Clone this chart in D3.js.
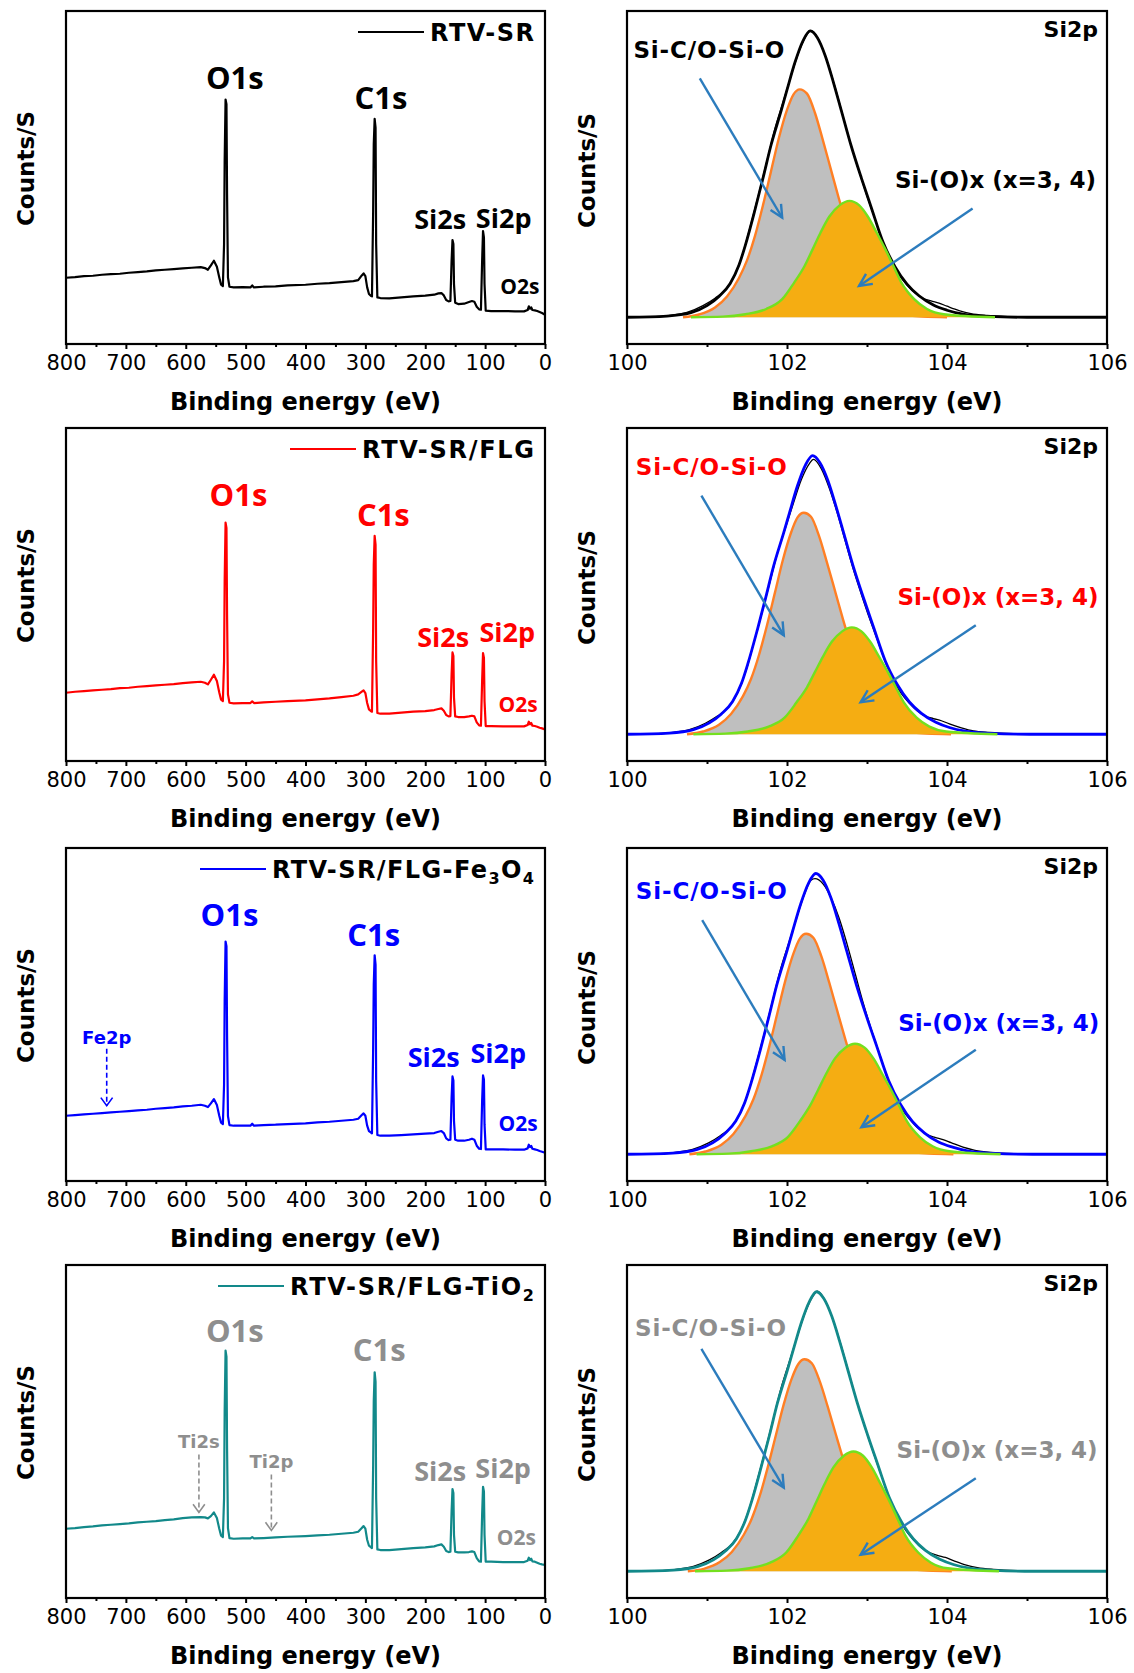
<!DOCTYPE html>
<html>
<head>
<meta charset="utf-8">
<script src="https://cdn.jsdelivr.net/npm/d3@7"></script>
<style>
  body { margin: 0; background: #fff; }
  svg { display: block; font-family: "DejaVu Sans", sans-serif; }
</style>
</head>
<body>
<div id="chart"></div>
<script>
// ---- survey spectra [binding energy eV, counts (a.u.)] ----
var surveyRTV = [[800,19.9],[785,20.1],[770,20.4],[755,20.5],[740,20.8],[725,21.0],[710,21.1],[695,21.4],[680,21.6],[665,21.8],[650,22.1],[635,22.3],[620,22.5],[605,22.7],[590,22.9],[575,23.1],[568,22.8],[563,22.3],[558,23.6],[553,25.0],[548,23.2],[544,20.0],[541,17.8],[538,17.4],[536,30],[535,55],[533.5,73.4],[532,72],[531,45],[529.5,20],[527,17.2],[520,17.0],[505,17.1],[492,17.0],[489,17.6],[486,17.0],[470,17.2],[450,17.3],[430,17.6],[400,17.8],[380,18.1],[360,18.3],[340,18.6],[320,18.9],[312,19.2],[306,20.6],[303,21.2],[300,20.4],[297,17.0],[294,15.0],[291,14.5],[289,14.3],[287,40],[286,60],[284.5,67.6],[283,65],[282,30],[280,14],[275,13.8],[260,13.7],[240,14.0],[220,14.3],[200,14.5],[185,14.8],[178,15.2],[173,15.3],[169,14.6],[165,13.2],[161,12.8],[158,12.9],[156,25],[154.5,31.2],[153,30],[152,18],[150,12.4],[145,12.0],[135,12.1],[127,12.6],[122,12.9],[118,12.7],[114,11.2],[110,10.4],[107,10.3],[105,25],[103.5,33.9],[102,32],[101,18],[99,10],[90,9.9],[70,9.9],[50,9.8],[35,9.8],[29,10.2],[27,11.3],[25,10.6],[23,11.0],[21,10.2],[17,10.1],[13,9.9],[9,9.6],[5,9.3],[0,8.8]];
var surveyFLG = [[800,20.5],[785,20.8],[770,21.0],[755,21.2],[740,21.4],[725,21.6],[710,21.9],[695,22.0],[680,22.3],[665,22.5],[650,22.7],[635,22.9],[620,23.1],[605,23.4],[590,23.6],[575,23.8],[568,23.5],[563,23.0],[558,24.4],[553,25.9],[548,24.0],[544,20.6],[541,18.4],[538,18.0],[536,30],[535,54],[533.5,71.6],[532,70],[531,44],[529.5,20],[527,17.5],[520,17.3],[505,17.4],[492,17.4],[489,17.9],[486,17.4],[470,17.6],[450,17.8],[430,18.0],[400,18.2],[380,18.5],[360,18.8],[340,19.2],[320,19.6],[312,20.0],[306,20.8],[303,21.2],[300,20.4],[297,17.4],[294,15.5],[291,15.0],[289,14.8],[287,40],[286,59],[284.5,67.6],[283,65],[282,30],[280,14.4],[275,14.2],[260,14.2],[240,14.5],[220,14.8],[200,15.0],[185,15.3],[178,15.6],[173,15.8],[169,15.1],[165,13.8],[161,13.4],[158,13.5],[156,26],[154.5,32.6],[153,31.5],[152,19],[150,13.4],[145,13.2],[135,13.2],[127,13.4],[122,13.6],[118,13.4],[114,11.6],[110,10.7],[107,10.6],[105,24],[103.5,32.4],[102,31],[101,18],[99,10.5],[90,10.5],[70,10.4],[50,10.4],[35,10.4],[29,10.8],[27,11.8],[25,11.0],[23,11.4],[21,10.6],[17,10.5],[13,10.3],[9,10.0],[5,9.8],[0,9.5]];
var surveyFe = [[800,19.6],[785,19.8],[770,20.0],[755,20.2],[740,20.4],[725,20.6],[710,20.8],[695,21.0],[680,21.2],[665,21.4],[650,21.7],[635,21.9],[620,22.1],[605,22.4],[590,22.6],[575,22.9],[568,22.6],[563,22.2],[558,23.3],[553,24.6],[548,22.8],[544,19.6],[541,17.5],[538,17.1],[536,29],[535,54],[533.5,71.9],[532,70.5],[531,44],[529.5,19.5],[527,16.8],[520,16.6],[505,16.6],[492,16.6],[489,17.2],[486,16.6],[470,16.8],[450,16.9],[430,17.1],[400,17.3],[380,17.6],[360,17.8],[340,18.1],[320,18.4],[312,18.7],[306,19.8],[303,20.3],[300,19.6],[297,16.6],[294,15.0],[291,14.6],[289,14.3],[287,40],[286,59],[284.5,67.8],[283,65],[282,30],[280,13.8],[275,13.6],[260,13.6],[240,13.8],[220,14.0],[200,14.2],[185,14.4],[178,14.8],[173,15.0],[169,14.4],[165,12.8],[161,12.3],[158,12.4],[156,25],[154.5,31.4],[153,30.2],[152,18],[150,12.4],[145,12.1],[135,12.1],[127,12.4],[122,12.7],[118,12.4],[114,10.6],[110,9.7],[107,9.6],[105,24],[103.5,31.7],[102,30.5],[101,17],[99,9.5],[90,9.5],[70,9.5],[50,9.4],[35,9.4],[29,9.8],[27,10.9],[25,10.2],[23,10.5],[21,9.7],[17,9.5],[13,9.3],[9,9.0],[5,8.8],[0,8.5]];
var surveyTi = [[800,20.8],[785,21.0],[770,21.3],[755,21.5],[740,21.8],[725,22.0],[710,22.2],[695,22.4],[680,22.7],[665,22.9],[650,23.1],[635,23.4],[620,23.6],[605,24.0],[590,24.2],[575,24.3],[568,24.2],[563,23.9],[558,24.6],[553,25.7],[548,24.0],[544,20.8],[541,18.7],[538,18.3],[536,30],[535,56],[533.5,74.3],[532,72.5],[531,45],[529.5,21],[527,18.0],[520,17.8],[505,17.9],[492,17.9],[489,18.3],[486,17.9],[470,18.0],[450,18.2],[430,18.4],[400,18.6],[380,18.8],[360,19.0],[340,19.3],[320,19.6],[312,19.9],[306,21.0],[303,21.6],[300,20.8],[297,17.5],[294,15.7],[291,15.3],[289,15.0],[287,40],[286,59],[284.5,67.8],[283,65],[282,30],[280,14.6],[275,14.4],[260,14.4],[240,14.7],[220,15.0],[200,15.2],[185,15.5],[178,15.9],[173,16.1],[169,15.4],[165,14.1],[161,13.8],[158,13.9],[156,26],[154.5,32.7],[153,31.5],[152,19],[150,13.9],[145,13.7],[135,13.7],[127,13.8],[122,14.0],[118,13.8],[114,12.0],[110,11.0],[107,10.9],[105,25],[103.5,33.4],[102,32],[101,19],[99,10.9],[90,10.9],[70,10.8],[50,10.8],[35,10.8],[29,11.2],[27,12.1],[25,11.4],[23,11.8],[21,11.0],[17,10.9],[13,10.6],[9,10.3],[5,10.1],[0,9.9]];

// ---- Si2p high-resolution: raw data, fitted envelope, Si-C/O-Si-O and Si-(O)x components ----
var rawRTV = [[100.25,0],[100.5,0.5],[100.75,1.6],[100.95,3.8],[101.1,6.2],[101.25,9.6],[101.35,14],[101.45,21],[101.55,30.5],[101.65,40.5],[101.75,51],[101.85,61.5],[101.95,70],[102.05,78.5],[102.15,86.5],[102.25,92],[102.3,93.4],[102.4,90.2],[102.5,83.5],[102.6,75],[102.7,65.5],[102.8,56],[102.9,47.5],[103.0,39.5],[103.1,32],[103.2,24.5],[103.3,18.5],[103.4,13.8],[103.5,10.5],[103.6,7.9],[103.7,6.2],[103.8,5.3],[103.9,4.6],[104.0,3.6],[104.15,2.2],[104.3,1.2],[104.5,0.6],[104.8,0.2],[105.2,0]];
var rawFLG = [[100.28,0],[100.53,0.5],[100.78,1.5],[100.98,3.6],[101.13,5.9],[101.28,9.2],[101.38,13.4],[101.48,20.1],[101.58,29.2],[101.68,38.8],[101.78,48.9],[101.88,58.9],[101.98,67.1],[102.08,75.2],[102.18,82.9],[102.28,88.1],[102.33,89.5],[102.43,86.4],[102.53,80],[102.63,71.9],[102.73,62.7],[102.83,53.6],[102.93,45.5],[103.03,37.8],[103.13,30.7],[103.23,23.5],[103.33,17.7],[103.43,13.2],[103.53,10.1],[103.63,7.6],[103.73,5.9],[103.83,5.1],[103.93,4.4],[104.03,3.4],[104.18,2.1],[104.33,1.1],[104.53,0.6],[104.83,0.2],[105.3,0]];
var rawFe = [[100.3,0],[100.57,0.5],[100.82,1.6],[101.02,3.7],[101.17,6.1],[101.32,9.4],[101.42,13.7],[101.52,20.6],[101.62,29.9],[101.72,39.7],[101.82,50],[101.92,60.3],[102.02,68.6],[102.12,76.9],[102.22,84.8],[102.3,89.2],[102.35,89.7],[102.45,88],[102.55,83.5],[102.65,77],[102.75,68.5],[102.85,59],[102.95,49.5],[103.05,41],[103.15,33.2],[103.25,25.5],[103.35,19],[103.45,14.2],[103.55,10.9],[103.65,8.2],[103.75,6.4],[103.85,5.5],[103.95,4.8],[104.05,3.8],[104.2,2.3],[104.35,1.3],[104.55,0.6],[104.85,0.2],[105.4,0]];
var rawTi = [[100.33,0],[100.58,0.5],[100.83,1.6],[101.03,3.7],[101.18,6.1],[101.33,9.4],[101.43,13.7],[101.53,20.5],[101.63,29.8],[101.73,39.5],[101.83,49.8],[101.93,60],[102.03,68.3],[102.13,76.6],[102.23,84.4],[102.33,89.8],[102.38,91.2],[102.48,88],[102.58,81.5],[102.68,73.2],[102.78,63.9],[102.88,54.7],[102.98,46.4],[103.08,38.6],[103.18,31.2],[103.28,23.9],[103.38,18],[103.48,13.5],[103.58,10.3],[103.68,7.7],[103.78,6.1],[103.88,5.2],[103.98,4.5],[104.08,3.5],[104.23,2.1],[104.38,1.2],[104.58,0.6],[104.88,0.2],[105.4,0]];

var envRTV = [[100,0],[100.5,0.4],[100.8,1.5],[101.0,3.8],[101.15,6.8],[101.29,11],[101.4,17],[101.48,23.5],[101.6,35],[101.7,45.3],[101.8,56],[101.93,67.5],[102.0,74],[102.1,83],[102.2,90],[102.29,93.2],[102.38,91],[102.48,85],[102.58,76.5],[102.68,67.2],[102.8,56],[102.93,45.3],[103.05,36],[103.2,24.5],[103.35,16.5],[103.5,10.8],[103.65,7],[103.83,4],[104.0,2.3],[104.2,1.0],[104.5,0.3],[105,0],[106,0]];
var envFLG = [[100,0],[100.53,0.4],[100.83,1.5],[101.03,3.7],[101.18,6.6],[101.32,10.7],[101.43,16.5],[101.51,22.9],[101.63,34.1],[101.73,44.1],[101.83,54.5],[101.96,65.7],[102.03,72],[102.13,80.8],[102.23,87.6],[102.32,90.7],[102.41,88.5],[102.51,82.7],[102.61,74.4],[102.71,65.4],[102.83,54.5],[102.96,44.1],[103.08,35],[103.23,23.8],[103.38,16.1],[103.53,10.5],[103.68,6.8],[103.86,3.9],[104.03,2.2],[104.23,1.0],[104.53,0.3],[105.03,0],[106,0]];
var envFe = [[100,0],[100.57,0.4],[100.87,1.5],[101.07,3.7],[101.22,6.7],[101.36,10.8],[101.47,16.7],[101.55,23.1],[101.67,34.3],[101.77,44.4],[101.87,54.9],[102.0,66.2],[102.07,72.6],[102.17,81.4],[102.27,88.3],[102.36,91.4],[102.45,89.3],[102.55,83.4],[102.65,75],[102.75,65.9],[102.87,54.9],[103.0,44.4],[103.12,35.3],[103.27,24],[103.42,16.2],[103.57,10.6],[103.72,6.9],[103.9,3.9],[104.07,2.3],[104.27,1.0],[104.57,0.3],[105.07,0],[106,0]];
var envTi = [[100,0],[100.58,0.4],[100.88,1.5],[101.08,3.7],[101.23,6.6],[101.37,10.7],[101.48,16.6],[101.56,22.9],[101.68,34.2],[101.78,44.2],[101.88,54.7],[102.01,65.9],[102.08,72.2],[102.18,81],[102.28,87.8],[102.37,91],[102.46,88.8],[102.56,83],[102.66,74.7],[102.76,65.6],[102.88,54.7],[103.01,44.2],[103.13,35.1],[103.28,23.9],[103.43,16.1],[103.58,10.5],[103.73,6.8],[103.91,3.9],[104.08,2.2],[104.28,1.0],[104.58,0.3],[105.08,0],[106,0]];

var siC_RTV = [[100.7,0],[100.9,0.9],[101.1,3.2],[101.25,6.8],[101.4,12.8],[101.5,18.5],[101.6,26.5],[101.7,36.5],[101.8,47.5],[101.9,58.5],[102.0,67.5],[102.08,72.5],[102.16,74.2],[102.25,72.8],[102.35,66.5],[102.45,57.5],[102.55,48],[102.65,38.5],[102.75,29.5],[102.85,21],[102.95,14],[103.05,8.8],[103.2,4],[103.4,1.2],[103.7,0.2],[104.0,0]];
var siC_FLG = [[100.75,0],[100.95,0.9],[101.15,3.1],[101.3,6.6],[101.45,12.4],[101.55,18],[101.65,25.8],[101.75,35.5],[101.85,46.2],[101.95,56.9],[102.05,65.6],[102.13,70.5],[102.21,72.1],[102.3,70.8],[102.4,64.6],[102.5,55.9],[102.6,46.7],[102.7,37.4],[102.8,28.7],[102.9,20.4],[103.0,13.6],[103.1,8.6],[103.25,3.9],[103.45,1.2],[103.75,0.2],[104.05,0]];
var siC_Fe = [[100.78,0],[100.98,0.9],[101.18,3.1],[101.33,6.6],[101.48,12.4],[101.58,17.9],[101.68,25.7],[101.78,35.3],[101.88,46],[101.98,56.6],[102.08,65.3],[102.16,70.2],[102.24,71.8],[102.33,70.5],[102.43,64.4],[102.53,55.7],[102.63,46.5],[102.73,37.3],[102.83,28.6],[102.93,20.3],[103.03,13.6],[103.13,8.5],[103.28,3.9],[103.48,1.2],[103.78,0.2],[104.08,0]];
var siC_Ti = [[100.76,0],[100.96,0.8],[101.16,3],[101.31,6.3],[101.46,11.9],[101.56,17.2],[101.66,24.6],[101.76,33.9],[101.86,44.2],[101.96,54.4],[102.06,62.8],[102.14,67.4],[102.22,69],[102.31,67.7],[102.41,61.8],[102.51,53.5],[102.61,44.6],[102.71,35.8],[102.81,27.4],[102.91,19.5],[103.01,13],[103.11,8.2],[103.26,3.7],[103.46,1.1],[103.76,0.2],[104.06,0]];

var siOx_RTV = [[100.8,0],[101.2,0.2],[101.48,1.0],[101.74,2.7],[101.94,5.9],[102.09,11.3],[102.22,16.7],[102.32,22.1],[102.42,27.6],[102.53,32.8],[102.66,36.5],[102.78,37.9],[102.9,36.5],[103.01,32.8],[103.12,27.6],[103.23,22.1],[103.33,16.7],[103.43,11.3],[103.59,5.9],[103.75,2.7],[103.96,1.0],[104.6,0]];
var siOx_FLG = [[100.83,0],[101.23,0.2],[101.51,0.9],[101.77,2.5],[101.97,5.4],[102.12,10.4],[102.25,15.3],[102.35,20.3],[102.45,25.3],[102.56,30.1],[102.69,33.5],[102.81,34.8],[102.93,33.5],[103.04,30.1],[103.15,25.3],[103.26,20.3],[103.36,15.3],[103.46,10.4],[103.62,5.4],[103.78,2.5],[103.99,0.9],[104.63,0]];
var siOx_Fe = [[100.87,0],[101.27,0.2],[101.55,1],[101.81,2.6],[102.01,5.6],[102.16,10.7],[102.29,15.9],[102.39,21],[102.49,26.2],[102.6,31.2],[102.73,34.7],[102.85,36],[102.97,34.7],[103.08,31.2],[103.19,26.2],[103.3,21],[103.4,15.9],[103.5,10.7],[103.66,5.6],[103.82,2.6],[104.03,1],[104.67,0]];
var siOx_Ti = [[100.85,0],[101.25,0.2],[101.53,1],[101.79,2.8],[101.99,6.1],[102.14,11.6],[102.27,17.2],[102.37,22.8],[102.47,28.4],[102.58,33.8],[102.71,37.6],[102.83,39],[102.95,37.6],[103.06,33.8],[103.17,28.4],[103.28,22.8],[103.38,17.2],[103.48,11.6],[103.64,6.1],[103.8,2.8],[104.01,1],[104.65,0]];

// ---- axis ticks ----
var surveyTicks = [800, 700, 600, 500, 400, 300, 200, 100, 0];
var surveyMinor = [750, 650, 550, 450, 350, 250, 150, 50];
var si2pTicks = [100, 102, 104, 106];
var si2pMinor = [101, 103, 105];

// ---- peak labels [text, eV, counts] ----
var peaksRTV = [["O1s",518,76.6],["C1s",274,70.6],["Si2s",175,34.4],["Si2p",69,34.9],["O2s",42,14.9]];
var peaksFLG = [["O1s",512,76.7],["C1s",270,70.6],["Si2s",170,34.3],["Si2p",63,35.6],["O2s",45,14.8]];
var peaksFe = [["O1s",527,76.6],["C1s",286,70.6],["Si2s",186,34.2],["Si2p",78,35.4],["O2s",45,14.9]];
var peaksTi = [["O1s",518,77.0],["C1s",277,71.3],["Si2s",175,35.1],["Si2p",70,36.1],["O2s",48,16.0]];
// minor peaks marked with dashed arrows [text, eV, label counts, arrow from, arrow to]
var markFe = [["Fe2p",732,41.2,39.7,22.6]];
var markTi = [["Ti2s",578,44.9,43.1,25.7],["Ti2p",457,39.1,37.1,20.3]];

// Si2p annotation anchors [eV, counts]: label1, label2, arrow1 start/end, arrow2 start/end
var notesRTV = [[100.08,84.5],[103.35,42.2],[100.91,77.8],[101.94,32.4],[104.32,35.4],[102.90,10.2]];
var notesFLG = [[100.11,84.5],[103.38,42.0],[100.93,77.7],[101.96,32.2],[104.36,35.5],[102.92,10.4]];
var notesFe = [[100.11,83.2],[103.39,40.1],[100.94,76.2],[101.97,30.7],[104.36,34.0],[102.93,8.8]];
var notesTi = [[100.10,76.7],[103.37,37.0],[100.93,72.4],[101.96,27.2],[104.36,30.3],[102.92,5.4]];

var panels = [
  {survey: surveyRTV, color: "#000000", tint: "#000000", legend: [["RTV-SR",0]], legendW: 104,
   peaks: peaksRTV, marks: [], raw: rawRTV, env: envRTV, envColor: "#000000", c1: siC_RTV, c2: siOx_RTV, notes: notesRTV},
  {survey: surveyFLG, color: "#ff0000", tint: "#ff0000", legend: [["RTV-SR/FLG",0]], legendW: 172,
   peaks: peaksFLG, marks: [], raw: rawFLG, env: envFLG, envColor: "#0000ff", c1: siC_FLG, c2: siOx_FLG, notes: notesFLG},
  {survey: surveyFe, color: "#0000ff", tint: "#0000ff", legend: [["RTV-SR/FLG-Fe",0],["3",1],["O",0],["4",1]], legendW: 262,
   peaks: peaksFe, marks: markFe, raw: rawFe, env: envFe, envColor: "#0000ff", c1: siC_Fe, c2: siOx_Fe, notes: notesFe},
  {survey: surveyTi, color: "#12898a", tint: "#8e8e8e", legend: [["RTV-SR/FLG-TiO",0],["2",1]], legendW: 244,
   peaks: peaksTi, marks: markTi, raw: rawTi, env: envTi, envColor: "#12898a", c1: siC_Ti, c2: siOx_Ti, notes: notesTi}
];

var rowTop = [11, 428, 848, 1265], plotH = 333;
var left = {x0: 66, x1: 545}, right = {x0: 627, x1: 1107};
var arrowBlue = "#2c7cbd";

var svg = d3.select("#chart").append("svg")
    .attr("width", 1134)
    .attr("height", 1673);

panels.forEach(function(p, i) {
  drawSurvey(p, rowTop[i]);
  drawSi2p(p, rowTop[i]);
});

function arrowHead(g, x1, y1, x2, y2, len, ang, color, sw) {
  var a = Math.atan2(y2 - y1, x2 - x1);
  var pts = [[x2 - len * Math.cos(a - ang), y2 - len * Math.sin(a - ang)], [x2, y2],
             [x2 - len * Math.cos(a + ang), y2 - len * Math.sin(a + ang)]];
  g.append("path").attr("d", d3.line()(pts))
    .attr("fill", "none").attr("stroke", color).attr("stroke-width", sw)
    .attr("stroke-linejoin", "miter");
}

function bottomAxis(g, x, h, ticks, minor) {
  var ax = g.append("g").attr("transform", "translate(0," + h + ")")
    .call(d3.axisBottom(x).tickValues(ticks).tickSize(5).tickPadding(6).tickFormat(d3.format("d")));
  ax.attr("font-size", 21).attr("font-family", "DejaVu Sans");
  ax.select(".domain").remove();
  ax.selectAll("line").attr("stroke", "#000").attr("stroke-width", 2);
  ax.selectAll("text").attr("fill", "#000");
  var mx = g.append("g").attr("transform", "translate(0," + h + ")")
    .call(d3.axisBottom(x).tickValues(minor).tickSize(3).tickFormat(""));
  mx.select(".domain").remove();
  mx.selectAll("line").attr("stroke", "#000").attr("stroke-width", 2);
}

function frameAndTitles(g, w, h, yShift) {
  g.append("rect").attr("width", w).attr("height", h)
    .attr("fill", "none").attr("stroke", "#000").attr("stroke-width", 2.2);
  g.append("text").attr("x", w / 2).attr("y", h + 66)
    .attr("text-anchor", "middle").attr("font-size", 24).attr("font-weight", "bold")
    .text("Binding energy (eV)");
  g.append("text")
    .attr("transform", "translate(-32," + (h / 2 + yShift) + ") rotate(-90)")
    .attr("text-anchor", "middle").attr("font-size", 23).attr("font-weight", "bold")
    .text("Counts/S");
}

function drawSurvey(p, top) {
  var w = left.x1 - left.x0, h = plotH;
  var g = svg.append("g").attr("transform", "translate(" + left.x0 + "," + top + ")");
  var x = d3.scaleLinear().domain([800, 0]).range([0, w]);
  var y = d3.scaleLinear().domain([0, 100]).range([h, 0]);

  g.append("path").datum(p.survey)
    .attr("d", d3.line().x(function(d) { return x(d[0]); }).y(function(d) { return y(d[1]); }))
    .attr("fill", "none").attr("stroke", p.color).attr("stroke-width", 2.2)
    .attr("stroke-linejoin", "round");

  var sizes = {"O1s": 31, "C1s": 31, "Si2s": 27, "Si2p": 27, "O2s": 21};
  g.selectAll(".peak").data(p.peaks).enter().append("text")
    .attr("x", function(d) { return x(d[1]); })
    .attr("y", function(d) { return y(d[2]); })
    .attr("text-anchor", "middle").attr("font-weight", "bold")
    .attr("font-family", "Open Sans")
    .attr("font-size", function(d) { return sizes[d[0]]; })
    .attr("fill", p.tint)
    .text(function(d) { return d[0]; });

  p.marks.forEach(function(m) {
    g.append("text").attr("x", x(m[1])).attr("y", y(m[2]))
      .attr("text-anchor", "middle").attr("font-weight", "bold").attr("font-size", 18)
      .attr("fill", p.tint).text(m[0]);
    g.append("line").attr("x1", x(m[1])).attr("x2", x(m[1]))
      .attr("y1", y(m[3])).attr("y2", y(m[4]))
      .attr("stroke", p.tint).attr("stroke-width", 1.6).attr("stroke-dasharray", "5,3");
    arrowHead(g, x(m[1]), y(m[3]), x(m[1]), y(m[4]), 10, Math.PI / 5, p.tint, 1.6);
  });

  // legend
  var lx = w - 11 - p.legendW;
  g.append("line").attr("x1", lx - 72).attr("x2", lx - 6).attr("y1", 21).attr("y2", 21)
    .attr("stroke", p.color).attr("stroke-width", 2.2);
  var t = g.append("text").attr("x", lx).attr("y", 30).attr("font-size", 24)
    .attr("font-weight", "bold").attr("textLength", p.legendW).attr("lengthAdjust", "spacing");
  var prevSub = 0;
  p.legend.forEach(function(s) {
    t.append("tspan").attr("font-size", s[1] ? 16 : 24)
      .attr("dy", (s[1] ? 6 : 0) - (prevSub ? 6 : 0))
      .text(s[0]);
    prevSub = s[1];
  });

  bottomAxis(g, x, h, surveyTicks, surveyMinor);
  frameAndTitles(g, w, h, -9);
}

function drawSi2p(p, top) {
  var w = right.x1 - right.x0, h = plotH;
  var g = svg.append("g").attr("transform", "translate(" + right.x0 + "," + top + ")");
  var x = d3.scaleLinear().domain([100, 106]).range([0, w]);
  var y = d3.scaleLinear().domain([-8.7, 99.7]).range([h, 0]);
  var line = d3.line().curve(d3.curveMonotoneX)
    .x(function(d) { return x(d[0]); }).y(function(d) { return y(d[1]); });
  var area = d3.area().curve(d3.curveMonotoneX)
    .x(function(d) { return x(d[0]); }).y0(y(0)).y1(function(d) { return y(d[1]); });

  g.append("path").datum(p.c1).attr("d", area).attr("fill", "#bfbfbf");
  g.append("path").datum(p.c1).attr("d", line).attr("fill", "none")
    .attr("stroke", "#ff7f24").attr("stroke-width", 2.4);
  g.append("path").datum(p.raw).attr("d", line).attr("fill", "none")
    .attr("stroke", "#000").attr("stroke-width", 1.3);
  g.append("path").datum(p.env).attr("d", line).attr("fill", "none")
    .attr("stroke", p.envColor).attr("stroke-width", 2.8);
  g.append("path").datum(p.c2).attr("d", area).attr("fill", "#f5ad12");
  g.append("path").datum(p.c2).attr("d", line).attr("fill", "none")
    .attr("stroke", "#74e01f").attr("stroke-width", 2.4);

  var n = p.notes;
  g.append("text").attr("x", x(n[0][0])).attr("y", y(n[0][1]))
    .attr("font-size", 23).attr("font-weight", "bold").attr("fill", p.tint)
    .attr("textLength", 151).attr("lengthAdjust", "spacing").text("Si-C/O-Si-O");
  g.append("text").attr("x", x(n[1][0])).attr("y", y(n[1][1]))
    .attr("font-size", 23).attr("font-weight", "bold").attr("fill", p.tint)
    .attr("textLength", 201).attr("lengthAdjust", "spacing").text("Si-(O)x (x=3, 4)");
  [[n[2], n[3]], [n[4], n[5]]].forEach(function(a) {
    var x1 = x(a[0][0]), y1 = y(a[0][1]), x2 = x(a[1][0]), y2 = y(a[1][1]);
    g.append("line").attr("x1", x1).attr("y1", y1).attr("x2", x2).attr("y2", y2)
      .attr("stroke", arrowBlue).attr("stroke-width", 2.4);
    arrowHead(g, x1, y1, x2, y2, 14, Math.PI / 7, arrowBlue, 2.4);
  });

  g.append("text").attr("x", w - 9).attr("y", 26).attr("text-anchor", "end")
    .attr("font-size", 22).attr("font-weight", "bold").text("Si2p");

  bottomAxis(g, x, h, si2pTicks, si2pMinor);
  frameAndTitles(g, w, h, -7);
}
</script>
</body>
</html>
